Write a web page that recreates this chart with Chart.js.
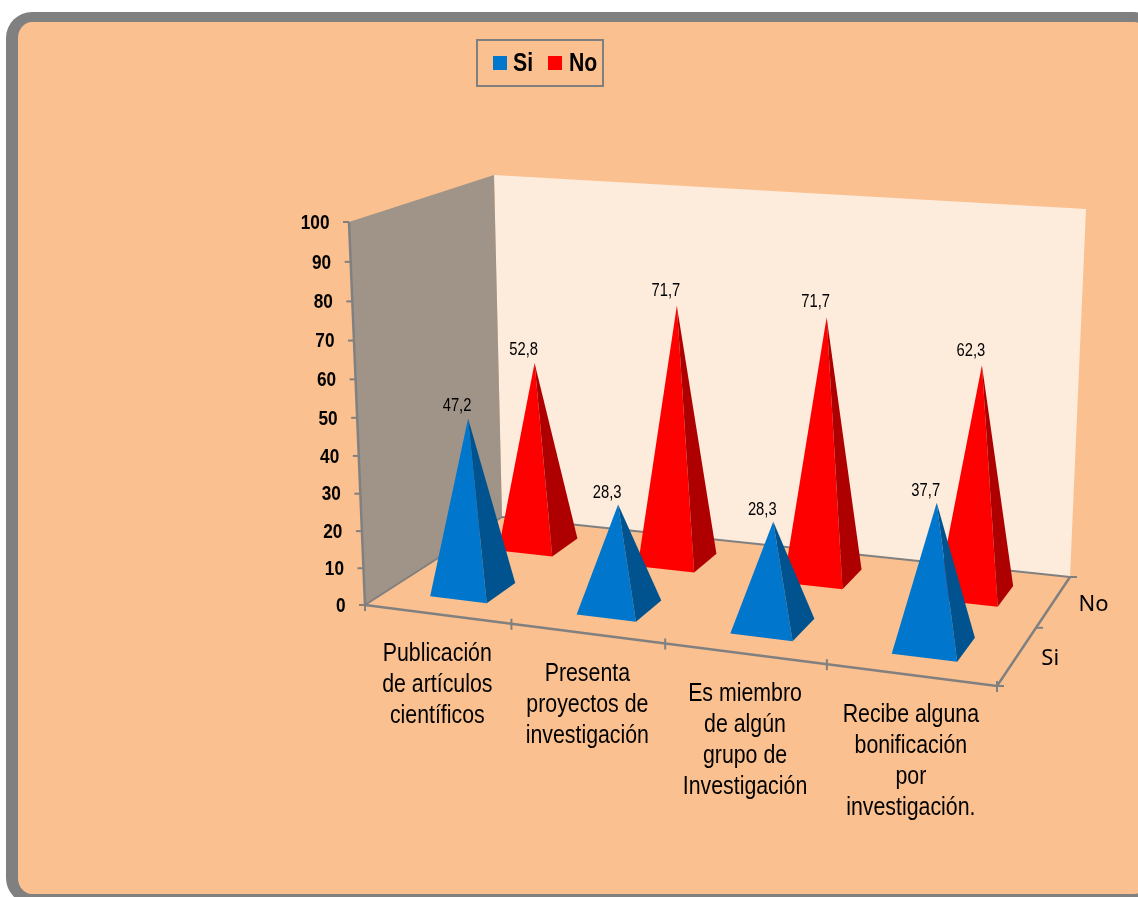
<!DOCTYPE html>
<html>
<head>
<meta charset="utf-8">
<script src="https://cdn.jsdelivr.net/npm/chart.js@4/dist/chart.umd.min.js"></script>
<style>
  html, body { margin: 0; padding: 0; background: #fff; overflow: hidden; width: 1138px; height: 897px; }
  #frame {
    position: absolute; left: 6px; top: 12px; width: 1130px; height: 872px;
    border: solid #808080; border-width: 10px 12px; border-radius: 26px; background: #fbc08f;
  }
  #chart { position: absolute; left: 0; top: 0; }
</style>
</head>
<body>
<div id="frame"></div>
<canvas id="chart" width="1138" height="897"></canvas>
<script>
// Data
const categories = [
  ['Publicación', 'de artículos', 'científicos'],
  ['Presenta', 'proyectos de', 'investigación'],
  ['Es miembro', 'de algún', 'grupo de', 'Investigación'],
  ['Recibe alguna', 'bonificación', 'por', 'investigación.']
];
const siValues = [47.2, 28.3, 28.3, 37.7];
const noValues = [52.8, 71.7, 71.7, 62.3];
const seriesNames = ['Si', 'No'];

// Colours
const colors = {
  si: '#0076cc', siDark: '#00538f',
  no: '#ff0000', noDark: '#ae0000',
  wallLeft: '#a09488', wallBack: '#fdebdc', axis: '#808080'
};
const sans = '"Liberation Sans", sans-serif';
const narrowScale = 0.82; // no narrow face installed, squeeze the regular one

// 3D box corners on the page: front-left, front-right, back-right, back-left
const floorQuad = [[365, 605], [997, 686], [1070, 577], [502, 517]];
const topQuad = [[349, 222], [1021, 277], [1086, 209], [494, 175]];

function quadMap(q) {
  const [[x0, y0], [x1, y1], [x2, y2], [x3, y3]] = q;
  const dx1 = x1 - x2, dx2 = x3 - x2, sx = x0 - x1 + x2 - x3;
  const dy1 = y1 - y2, dy2 = y3 - y2, sy = y0 - y1 + y2 - y3;
  const den = dx1 * dy2 - dx2 * dy1;
  const g = (sx * dy2 - dx2 * sy) / den;
  const h = (dx1 * sy - sx * dy1) / den;
  const a = x1 - x0 + g * x1, b = x3 - x0 + h * x3;
  const d = y1 - y0 + g * y1, e = y3 - y0 + h * y3;
  return (u, v) => {
    const w = g * u + h * v + 1;
    return [(a * u + b * v + x0) / w, (d * u + e * v + y0) / w];
  };
}
const floorAt = quadMap(floorQuad);
const topAt = quadMap(topQuad);

// u: along the categories, v: depth, t: height, all 0..1
function project(u, v, t) {
  const p = t / (t + (1 - t) * 1.046);
  const uu = u + 0.03 * u * (1 - u);
  const a = floorAt(uu, v), b = topAt(uu, v);
  // uprights lean outwards as they go up
  const leanLeft = -16 + 8 * v, leanRight = 10 + 6 * v;
  const lean = leanLeft + (leanRight - leanLeft) * u;
  return [a[0] + lean * p, a[1] + (b[1] - a[1]) * p];
}

function poly(ctx, pts, fill) {
  ctx.beginPath();
  pts.forEach((p, i) => i ? ctx.lineTo(p[0], p[1]) : ctx.moveTo(p[0], p[1]));
  ctx.closePath();
  ctx.fillStyle = fill;
  ctx.fill();
}

function line(ctx, a, b) {
  ctx.beginPath();
  ctx.moveTo(a[0], a[1]);
  ctx.lineTo(b[0], b[1]);
  ctx.stroke();
}

function textLine(ctx, str, x, y, font, align, scaleX) {
  ctx.save();
  ctx.translate(x, y);
  ctx.scale(scaleX === undefined ? narrowScale : scaleX, 1);
  ctx.font = font;
  ctx.textAlign = align || 'center';
  ctx.textBaseline = 'middle';
  ctx.fillStyle = '#000';
  ctx.fillText(str, 0, 0);
  ctx.restore();
}

const scene3d = {
  id: 'scene3d',
  // takes over the drawing of the bars, the values still come from the scales
  beforeDatasetsDraw(chart) {
    const { ctx, scales: { x, y } } = chart;
    const uOf = (val) => (x.getPixelForValue(val) - x.left) / x.width;
    const uEdge = (i) => i / categories.length;
    const tOf = (val) => (y.bottom - y.getPixelForValue(val)) / y.height;
    const halfU = 0.049, halfV = 0.105;
    const depth = [0.25, 0.75];
    const depthLabelDx = [33, 40];

    ctx.save();
    // walls
    poly(ctx, [project(0, 1, 0), project(1, 1, 0), project(1, 1, 1), project(0, 1, 1)], colors.wallBack);
    poly(ctx, [project(0, 0, 0), project(0, 1, 0), project(0, 1, 1), project(0, 0, 1)], colors.wallLeft);

    // axes
    ctx.strokeStyle = colors.axis;
    ctx.lineWidth = 2;
    line(ctx, project(0, 0, 0), project(0, 1, 0));
    line(ctx, project(0, 1, 0), project(1, 1, 0));
    ctx.lineWidth = 2.5;
    line(ctx, project(0, 0, 0), project(0, 0, 1));
    line(ctx, project(0, 0, 0), project(1, 0, 0));
    line(ctx, project(1, 0, 0), project(1, 1, 0));
    ctx.lineWidth = 2;
    y.ticks.forEach((tick) => {
      const p = project(0, 0, tOf(tick.value));
      line(ctx, p, [p[0] - 6, p[1]]);
      textLine(ctx, String(tick.value), p[0] - 19.5, p[1] + 1, 'bold 21px ' + sans, 'right');
    });
    for (let i = 0; i <= categories.length; i++) {
      const p = project(uEdge(i), 0, 0);
      line(ctx, [p[0], p[1] - 5], [p[0], p[1] + 6]);
    }
    [0, 0.5, 1].forEach((v) => {
      const p = project(1, v, 0);
      line(ctx, p, [p[0] + 7, p[1]]);
    });

    // pyramids, back row first
    const faces = [[colors.si, colors.siDark], [colors.no, colors.noDark]];
    const labels = [];
    [1, 0].forEach((ds) => {
      const values = chart.data.datasets[ds].data;
      categories.forEach((_, i) => {
        const u = uOf(i), v = depth[ds];
        const tip = project(u, v, tOf(values[i]));
        const apex = [tip[0], tip[1] + 2];
        const fl = project(u - halfU, v - halfV, 0);
        const fr = project(u + halfU, v - halfV, 0);
        const br = project(u + halfU, v + halfV, 0);
        poly(ctx, [fl, fr, apex], faces[ds][0]);
        poly(ctx, [fr, br, apex], faces[ds][1]);
        labels.push([values[i], apex]);
      });
    });
    labels.forEach(([val, apex]) => {
      const str = val.toFixed(1).replace('.', ',');
      textLine(ctx, str, apex[0] - 11, apex[1] - 8.5 - val * 0.09, '18px ' + sans);
    });

    // category labels under the front axis
    categories.forEach((lines, i) => {
      const p = project(uOf(i), 0, 0);
      lines.forEach((str, k) => {
        textLine(ctx, str, p[0], p[1] + 40 + k * 31, '26px ' + sans);
      });
    });

    // series names along the depth axis
    seriesNames.forEach((name, ds) => {
      const p = project(1, depth[ds], 0);
      textLine(ctx, name, p[0] + depthLabelDx[ds], p[1] + 3, '22px "Noto Sans", sans-serif', 'center', 1);
    });

    // legend box
    ctx.lineWidth = 2;
    ctx.strokeRect(477, 40, 126, 46);
    const legendX = [[493, 513], [548, 569]];
    seriesNames.forEach((name, ds) => {
      ctx.fillStyle = chart.data.datasets[ds].backgroundColor;
      ctx.fillRect(legendX[ds][0], 56, 14, 14);
      textLine(ctx, name, legendX[ds][1], 64, 'bold 25px ' + sans, 'left', 0.85);
    });
    ctx.restore();
    return false;
  }
};

new Chart(document.getElementById('chart'), {
  type: 'bar',
  data: {
    labels: categories,
    datasets: [
      { label: seriesNames[0], data: siValues, backgroundColor: colors.si },
      { label: seriesNames[1], data: noValues, backgroundColor: colors.no }
    ]
  },
  options: {
    responsive: false,
    animation: false,
    plugins: { legend: { display: false }, tooltip: { enabled: false } },
    scales: {
      x: { display: false },
      y: { display: false, min: 0, max: 100, ticks: { stepSize: 10 } }
    }
  },
  plugins: [scene3d]
});
</script>
</body>
</html>
